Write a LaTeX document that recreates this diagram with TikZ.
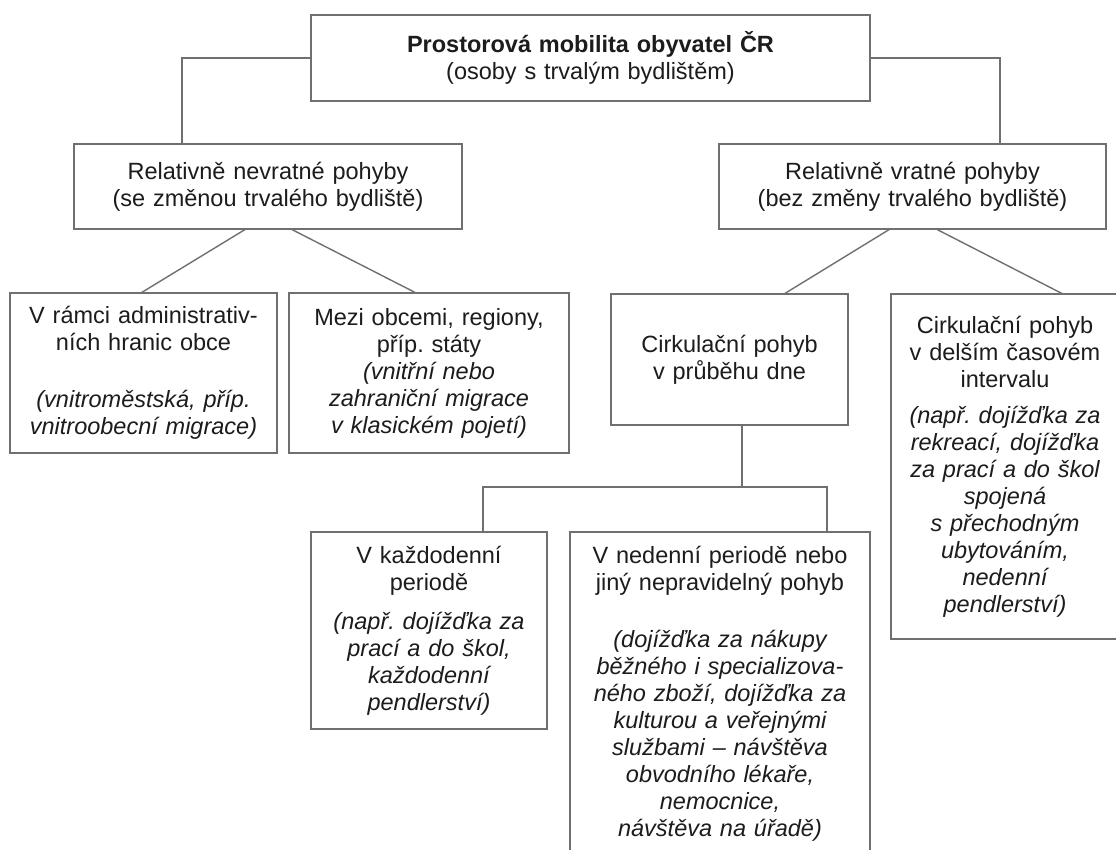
\documentclass[tikz,border=0pt]{standalone}
\usepackage{fontspec}
\setmainfont{Liberation Sans}
\usetikzlibrary{calc}

\definecolor{framegray}{RGB}{112,112,112}
\definecolor{inkgray}{RGB}{28,28,28}
\frenchspacing

\begin{document}
\begin{tikzpicture}[
  x=1pt, y=-1pt,
  font=\fontsize{23.5}{27}\selectfont,
  box/.style={draw=framegray, line width=1.5pt, fill=white, text=inkgray,
              align=center, inner sep=4pt, outer sep=0pt},
  link/.style={draw=framegray, line width=1.4pt},
]

% ---------- canvas ----------
\useasboundingbox (0,0) rectangle (1116,850);
\clip (0,0) rectangle (1116,850);
\fill[white] (0,0) rectangle (1116,850);

% ---------- root ----------
\node[box, text width=551pt, minimum height=86pt] (root) at (590.5,58)
  {\textbf{Prostorová mobilita obyvatel ČR}\\(osoby s trvalým bydlištěm)};

% ---------- level 1 ----------
\node[box, text width=380pt, minimum height=85pt] (nevr) at (268,186.5)
  {Relativně nevratné pohyby\\(se změnou trvalého bydliště)};
\node[box, text width=379pt, minimum height=85pt] (vrat) at (912.5,186.5)
  {Relativně vratné pohyby\\(bez změny trvalého bydliště)};

% ---------- level 2 ----------
\node[box, text width=259pt, minimum height=160pt] (intra) at (143.5,373)
  {V rámci administrativ-\\ních hranic obce\\[30pt]
   {\itshape (vnitroměstská, příp.\\vnitroobecní migrace)}};
\node[box, text width=272pt, minimum height=160pt] (inter) at (429,373)
  {Mezi obcemi, regiony,\\příp. státy\\
   {\itshape (vnitřní nebo\\zahraniční migrace\\v klasickém pojetí)}};
\node[box, text width=229pt, minimum height=131pt] (daycirc) at (729.5,359.5)
  {Cirkulační pohyb\\v průběhu dne};
\node[box, text width=220pt, minimum height=345pt] (longcirc) at (1005,466.5)
  {Cirkulační pohyb\\v delším časovém\\intervalu\\[9pt]
   {\itshape (např. dojížďka za\\rekreací, dojížďka\\za prací a do škol\\spojená\\
    s přechodným\\ubytováním,\\nedenní\\pendlerství)}};

% ---------- level 3 ----------
\node[box, text width=228pt, minimum height=197pt] (daily) at (429,630.5)
  {V každodenní\\periodě\\[12pt]
   {\itshape (např. dojížďka za\\prací a do škol,\\každodenní\\pendlerství)}};
\node[box, text width=292pt, minimum height=324pt] (weekly) at (720,694)
  {V nedenní periodě nebo\\jiný nepravidelný pohyb\\[30pt]
   {\itshape (dojížďka za nákupy\\běžného i specializova-\\ného zboží, dojížďka za\\
    kulturou a veřejnými\\službami – návštěva\\obvodního lékaře,\\nemocnice,\\
    návštěva na úřadě)}};

% ---------- connectors ----------
\draw[link] (root.west) -| ($(nevr.north west)!0.278!(nevr.north east)$);
\draw[link] (root.east) -| ($(vrat.north west)!0.726!(vrat.north east)$);

\draw[link] ($(nevr.south west)!0.443!(nevr.south east)$)
  -- ($(intra.north west)!0.49!(intra.north east)$);
\draw[link] ($(nevr.south west)!0.559!(nevr.south east)$)
  -- ($(inter.north west)!0.454!(inter.north east)$);

\draw[link] ($(vrat.south west)!0.442!(vrat.south east)$)
  -- ($(daycirc.north west)!0.73!(daycirc.north east)$);
\draw[link] ($(vrat.south west)!0.561!(vrat.south east)$)
  -- ($(longcirc.north west)!0.754!(longcirc.north east)$);

\draw[link] ($(daycirc.south west)!0.553!(daycirc.south east)$)
  -- ++(0,62) coordinate (bus);
\draw[link] ($(daily.north west)!0.729!(daily.north east)$)
  |- (bus) -| ($(weekly.north west)!0.857!(weekly.north east)$);

\end{tikzpicture}
\end{document}
